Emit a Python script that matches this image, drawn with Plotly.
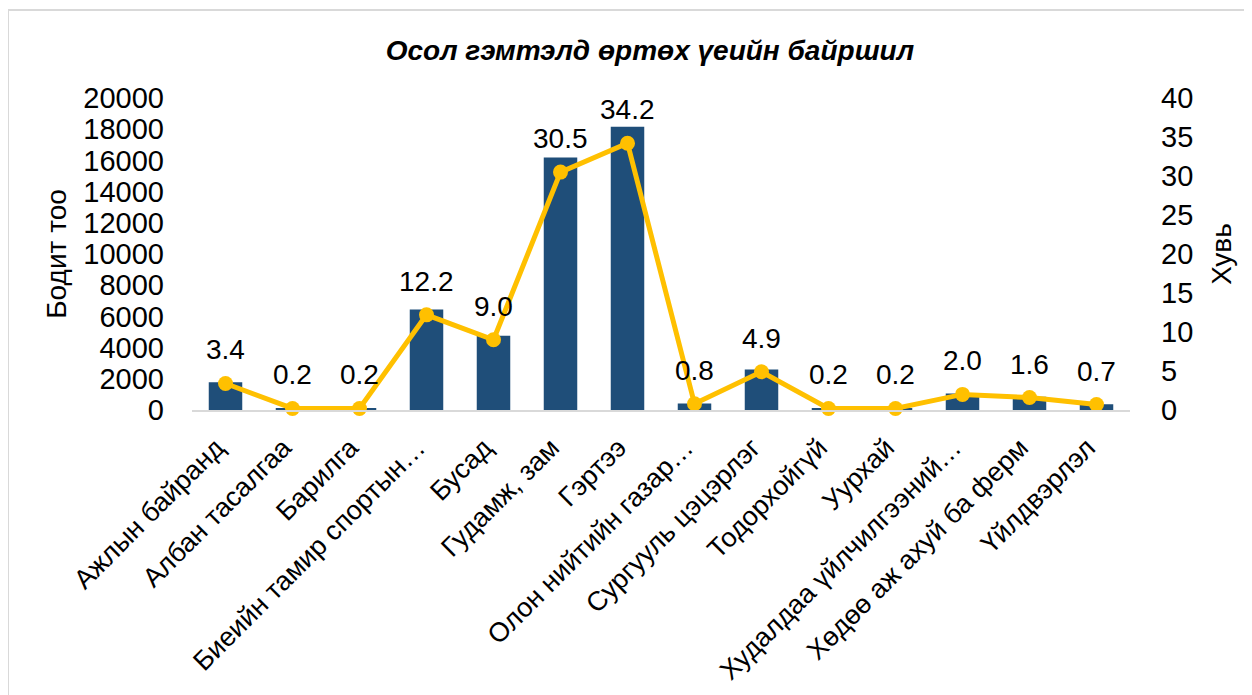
import plotly.graph_objects as go

categories = ["Ажлын байранд", "Албан тасалгаа", "Барилга", "Биеийн тамир спортын…",
              "Бусад", "Гудамж, зам", "Гэртээ", "Олон нийтийн газар…",
              "Сургууль цэцэрлэг", "Тодорхойгүй", "Уурхай", "Худалдаа үйлчилгээний…",
              "Хөдөө аж ахуй ба ферм", "Үйлдвэрлэл"]
counts = [1780, 110, 110, 6450, 4760, 16180, 18150, 420, 2600, 110, 110, 1060, 850, 370]
percents = [3.4, 0.2, 0.2, 12.2, 9.0, 30.5, 34.2, 0.8, 4.9, 0.2, 0.2, 2.0, 1.6, 0.7]
left_ticks = list(range(0, 20001, 2000))
right_ticks = list(range(0, 41, 5))

FONT = "Liberation Sans, Arial, sans-serif"
FS = 28

fig = go.Figure()
fig.add_trace(go.Bar(x=categories, y=counts, marker_color="#1F4E79",
                     marker_line_width=0, name="Бодит тоо", yaxis="y"))
fig.add_trace(go.Scatter(x=categories, y=percents, yaxis="y2", mode="lines+markers",
                         line=dict(color="#FFC000", width=5),
                         marker=dict(color="#FFC000", size=15),
                         name="Хувь", cliponaxis=False))

annotations = [dict(x=c, y=p, xref="x", yref="y2", text=f"{p:.1f}", showarrow=False,
                    yanchor="bottom", xanchor="center", yshift=16,
                    font=dict(size=FS, color="#000000", family=FONT))
               for c, p in zip(categories, percents)]

fig.update_layout(
    width=1244, height=687,
    margin=dict(l=184, r=122, t=90, b=285, autoexpand=False),
    plot_bgcolor="white", paper_bgcolor="white",
    showlegend=False, bargap=0.5,
    font=dict(family=FONT, size=FS, color="#000000"),
    title=dict(text="<b><i>Осол гэмтэлд өртөх үеийн байршил</i></b>",
               x=0.516, xanchor="center", y=0.939, yanchor="middle",
               font=dict(size=FS, family=FONT, color="#000000")),
    xaxis=dict(tickangle=-45, tickfont=dict(size=27), showgrid=False, automargin=False,
               range=[-0.5, len(categories) - 0.5],
               tickmode="array", tickvals=categories,
               ticktext=[c + "\u00a0\u2009" for c in categories],
               showline=True, linecolor="#D9D9D9", linewidth=2, ticks=""),
    yaxis=dict(range=[0, 20000], tickvals=left_ticks, ticktext=[str(v) for v in left_ticks],
               showgrid=False, zeroline=False, automargin=False,
               title=dict(text="Бодит тоо", standoff=8, font=dict(size=FS)),
               tickfont=dict(size=29), ticklabelstandoff=27),
    yaxis2=dict(range=[0, 40], tickvals=right_ticks, ticktext=[str(v) for v in right_ticks],
                overlaying="y", side="right", automargin=False,
                showgrid=False, zeroline=False,
                title=dict(text="Хувь", standoff=19, font=dict(size=FS)),
                tickfont=dict(size=29), ticklabelstandoff=30),
    annotations=annotations,
    shapes=[dict(type="rect", xref="paper", yref="paper",
                 x0=(8 - 192) / 938, x1=(1262 - 192) / 938,
                 y0=(410 - 705) / 312, y1=(410 - 10) / 312,
                 line=dict(color="#D9D9D9", width=2), fillcolor="rgba(0,0,0,0)",
                 layer="below")],
)

fig.write_html("out.html")
